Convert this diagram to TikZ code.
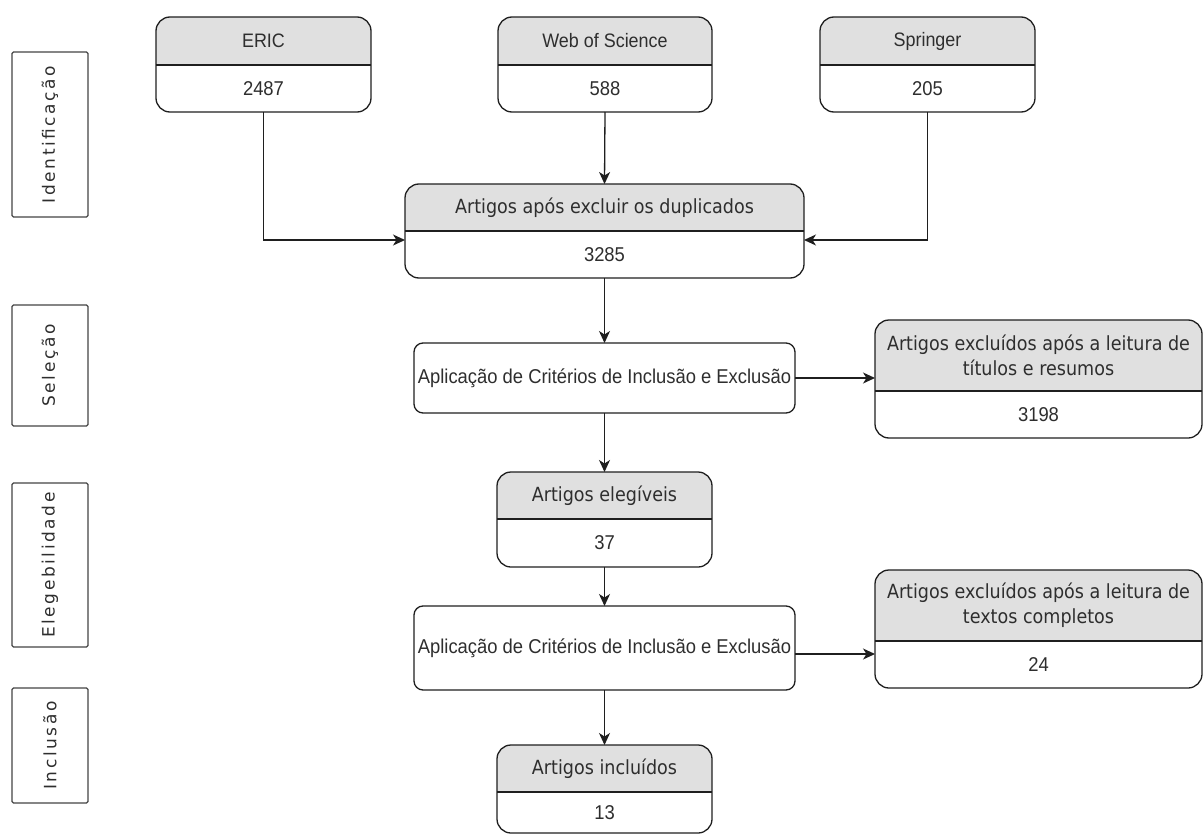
\documentclass[tikz,border=0pt]{standalone}
\usepackage{fontspec}
\setmainfont{Liberation Sans}
\newfontfamily\bodyfont[FakeStretch=0.92]{Liberation Sans}
\newfontfamily\hdrfont[FakeStretch=0.9]{DejaVu Sans}
\newfontfamily\sidefont[LetterSpace=15]{DejaVu Sans}
\usetikzlibrary{arrows.meta,calc}
\definecolor{hdr}{HTML}{E0E0E0}
\definecolor{txt}{HTML}{2E2E2E}
\definecolor{ln}{HTML}{1F1F1F}
\definecolor{sideln}{HTML}{444444}
\tikzset{
  outerbox/.style={draw=ln, line width=1.3pt, rounded corners=14pt, inner sep=0pt, outer sep=0pt},
  appbox/.style={draw=ln, line width=1.3pt, rounded corners=9pt, inner sep=0pt, outer sep=0pt, fill=white,
    text=txt, font=\bodyfont\fontsize{20}{24}\selectfont},
  divline/.style={draw=ln, line width=1.3pt},
  hdrtext/.style={text=txt, align=center, inner sep=0pt, font=\hdrfont\fontsize{19.5}{25}\selectfont},
  numtext/.style={text=txt, align=center, inner sep=0pt, font=\bodyfont\fontsize{20}{24}\selectfont},
  sidebox/.style={draw=sideln, line width=1.4pt, rounded corners=1.5pt, inner sep=0pt, outer sep=0pt,
    rotate=90, text=txt, font=\sidefont\fontsize{17}{19}\selectfont},
  arr/.style={draw=ln, line width=1.3pt, -{Stealth[length=12pt,width=11pt,inset=3.5pt]}}
}
% name, x1, y1, x2, y2, ydiv, header, number
\newcommand\twobox[8]{%
  \begin{scope}
    \clip[rounded corners=14pt] (#2,#3) rectangle (#4,#5);
    \fill[hdr] (#2,#3) rectangle (#4,#6);
  \end{scope}
  \node[outerbox, minimum width={#4pt-#2pt}, minimum height={#5pt-#3pt}, anchor=north west] (#1) at (#2,#3) {};
  \draw[divline] (#2,#6) -- (#4,#6);
  \node[hdrtext] (#1-h) at ($(#2,#3)!0.5!(#4,#6)$) {#7};
  \node[numtext] (#1-n) at ($(#2,#6)!0.5!(#4,#5)$) {#8};
}
\begin{document}
\begin{tikzpicture}[x=1pt, y=-1pt]
\useasboundingbox[fill=white] (0,0) rectangle (1203,835);

% side labels
\node[sidebox, minimum width=165pt, minimum height=76pt] (sid1) at (50,134.5) {Identificação};
\node[sidebox, minimum width=121pt, minimum height=76pt] (sid2) at (50,365.5) {Seleção};
\node[sidebox, minimum width=164pt, minimum height=76pt] (sid3) at (50,565) {Elegebilidade};
\node[sidebox, minimum width=115pt, minimum height=76pt] (sid4) at (50,745.5) {Inclusão};

% sources
\twobox{eric}{156}{17}{371}{112}{65}{\bodyfont ERIC}{2487}
\twobox{wos}{498}{17}{712}{112}{65}{\bodyfont Web of Science}{588}
\twobox{spr}{820}{17}{1035}{112}{65}{\bodyfont Springer}{205}

\twobox{dup}{405}{184}{804}{278}{231}{Artigos após excluir os duplicados}{3285}

\node[appbox, minimum width=381pt, minimum height=70pt, anchor=north west] (app1) at (414,343) {Aplicação de Critérios de Inclusão e Exclusão};
\twobox{exc1}{875}{320}{1202}{438}{391}{Artigos excluídos após a leitura de\\títulos e resumos}{3198}

\twobox{eleg}{497}{472}{712}{567}{519}{Artigos elegíveis}{37}

\node[appbox, minimum width=381pt, minimum height=84pt, anchor=north west] (app2) at (414,606) {Aplicação de Critérios de Inclusão e Exclusão};
\twobox{exc2}{875}{570}{1202}{688}{641}{Artigos excluídos após a leitura de\\textos completos}{24}

\twobox{incl}{497}{745}{712}{833}{792}{Artigos incluídos}{13}

% connectors
\draw[arr] (eric.south) |- ([yshift=-9pt]dup.west);
\draw[arr] (spr.south) |- ([yshift=-9pt]dup.east);
\draw[arr] (wos.south) -- (dup.north);
\draw[arr] (dup.south) -- (app1.north);
\draw[arr] (app1.east) -- (app1.east -| exc1.west);
\draw[arr] (app1.south) -- (eleg.north);
\draw[arr] (eleg.south) -- (app2.north);
\draw[arr] ([yshift=-6pt]app2.east) -- ([yshift=-6pt]app2.east -| exc2.west);
\draw[arr] (app2.south) -- (incl.north);
\end{tikzpicture}
\end{document}
